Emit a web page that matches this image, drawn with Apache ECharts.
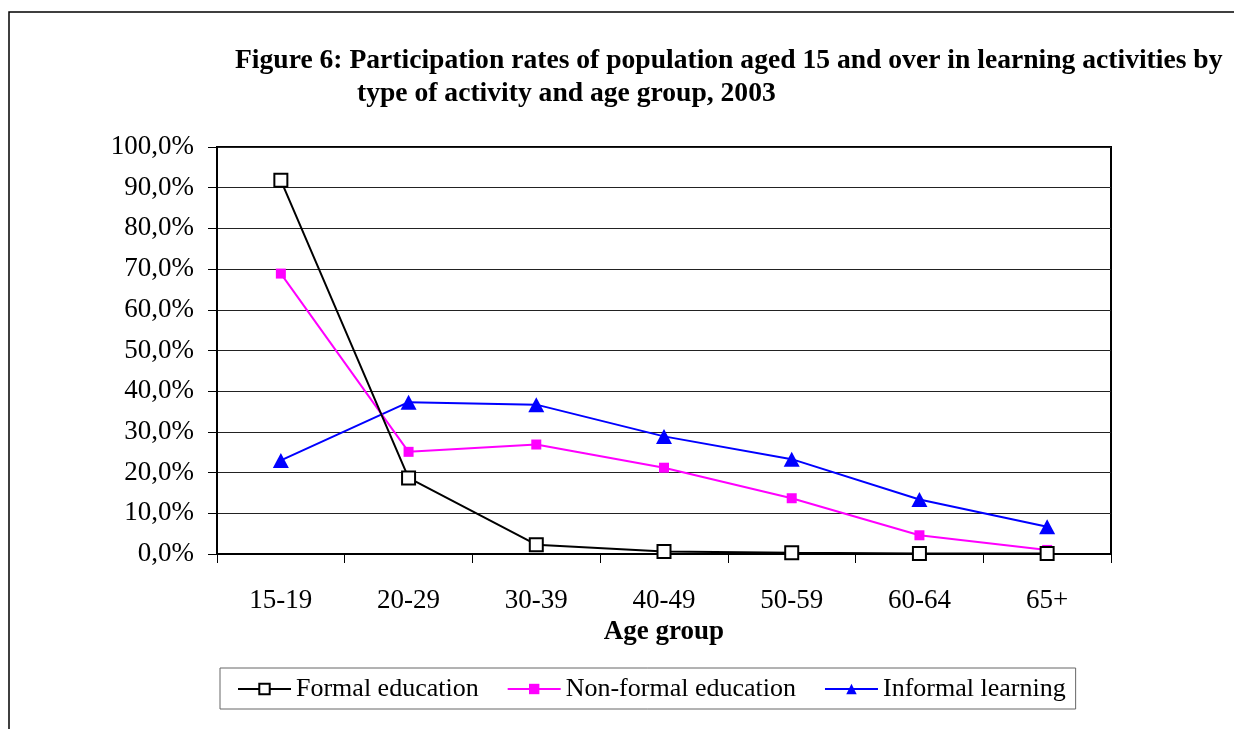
<!DOCTYPE html>
<html>
<head>
<meta charset="utf-8">
<script src="https://cdn.jsdelivr.net/npm/echarts@6/dist/echarts.min.js"></script>
<style>
  html, body { margin: 0; padding: 0; background: #fff; }
  #chart { width: 1234px; height: 729px; }
</style>
</head>
<body>
<div id="chart"></div>
<script>
// Participation rates (%) by age group, 2003
const ageGroups = ['15-19', '20-29', '30-39', '40-49', '50-59', '60-64', '65+'];
const formalEducation = [91.8, 18.7, 2.3, 0.6, 0.3, 0.1, 0.1];
const nonFormalEducation = [68.9, 25.1, 26.9, 21.2, 13.7, 4.6, 1.0];
const informalLearning = [23.0, 37.3, 36.7, 28.9, 23.3, 13.4, 6.7];

const titleLine1 = 'Figure 6: Participation rates of population aged 15 and over in learning activities by';
const titleLine2 = 'type of activity and age group, 2003';

const serif = '"Liberation Serif", "Times New Roman", serif';

const chart = echarts.init(document.getElementById('chart'), null, { renderer: 'canvas' });

chart.setOption({
  backgroundColor: '#fff',
  animation: false,
  textStyle: { fontFamily: serif },
  title: [
    { text: titleLine1, left: 230, top: 42,
      textStyle: { fontFamily: serif, fontWeight: 'bold', fontSize: 27.6, color: '#000' } },
    { text: titleLine2, left: 352, top: 75,
      textStyle: { fontFamily: serif, fontWeight: 'bold', fontSize: 27.6, color: '#000' } }
  ],
  graphic: [
    { type: 'polyline', silent: true,
      shape: { points: [[9, 729], [9, 12], [1234, 12]] },
      style: { stroke: '#000', lineWidth: 1.5, fill: null } }
  ],
  grid: {
    left: 217, top: 147, right: 123, bottom: 175,
    show: true, borderColor: '#000', borderWidth: 2, backgroundColor: '#fff'
  },
  legend: {
    left: 220, top: 668,
    padding: [8, 10, 7, 17],
    itemGap: 28,
    itemWidth: 53, itemHeight: 13,
    borderColor: '#666', borderWidth: 1,
    textStyle: { fontFamily: serif, fontSize: 26, color: '#000' },
    data: ['Formal education', 'Non-formal education', 'Informal learning']
  },
  xAxis: {
    type: 'category',
    data: ageGroups,
    boundaryGap: true,
    name: 'Age group',
    nameLocation: 'middle',
    nameGap: 64,
    nameTextStyle: { fontFamily: serif, fontWeight: 'bold', fontSize: 27, color: '#000' },
    axisLine: { show: true, lineStyle: { color: '#000', width: 2 } },
    axisTick: { show: true, inside: false, length: 9, alignWithLabel: false,
      lineStyle: { color: '#000', width: 1 } },
    axisLabel: { fontFamily: serif, fontSize: 27, color: '#000', margin: 33 },
    splitLine: { show: false }
  },
  yAxis: {
    type: 'value',
    min: 0, max: 100, interval: 10,
    axisLine: { show: true, lineStyle: { color: '#000', width: 2 } },
    axisTick: { show: true, inside: false, length: 9, lineStyle: { color: '#000', width: 1 } },
    axisLabel: {
      fontFamily: serif, fontSize: 27, color: '#000', margin: 23,
      formatter: v => v.toFixed(1).replace('.', ',') + '%'
    },
    splitLine: { show: true, lineStyle: { color: '#222', width: 1 } }
  },
  series: [
    {
      name: 'Formal education', type: 'line', data: formalEducation,
      symbol: 'rect', symbolSize: 13,
      itemStyle: { color: '#fff', borderColor: '#000', borderWidth: 2 },
      lineStyle: { color: '#000', width: 2 },
      z: 4
    },
    {
      name: 'Non-formal education', type: 'line', data: nonFormalEducation,
      symbol: 'rect', symbolSize: 10,
      itemStyle: { color: '#ff00ff', borderColor: '#ff00ff', borderWidth: 0 },
      lineStyle: { color: '#ff00ff', width: 2 },
      z: 3
    },
    {
      name: 'Informal learning', type: 'line', data: informalLearning,
      symbol: 'triangle', symbolSize: [16, 15],
      itemStyle: { color: '#0000ff', borderColor: '#0000ff', borderWidth: 0 },
      lineStyle: { color: '#0000ff', width: 2 },
      z: 2
    }
  ]
});
</script>
</body>
</html>
